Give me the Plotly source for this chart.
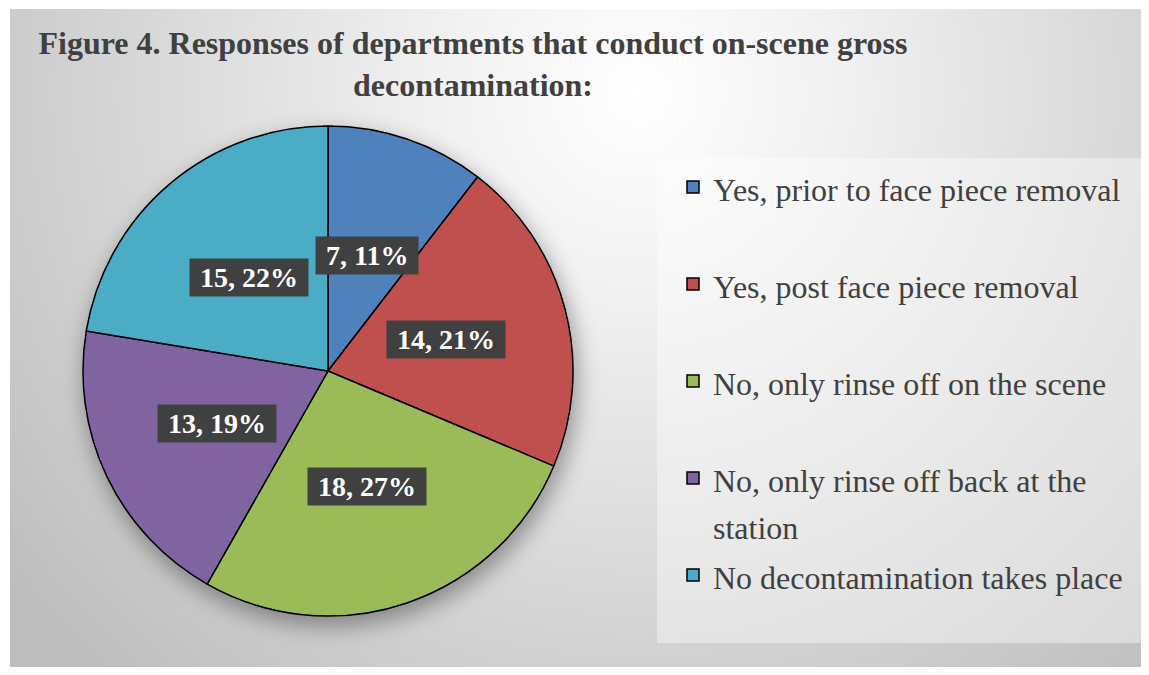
import base64
import math
import plotly.graph_objects as go

# ---- data ----
categories = [
    "Yes, prior to face piece removal",
    "Yes, post face piece removal",
    "No, only rinse off on the scene",
    "No, only rinse off back at the<br>station",
    "No decontamination takes place",
]
responses = [7, 14, 18, 13, 15]
pct_labels = ["11%", "21%", "27%", "19%", "22%"]
colors = ["#4F81BD", "#C0504D", "#9BBB59", "#8064A2", "#4BACC6"]
title_text = "Figure 4. Responses of departments that conduct on-scene gross<br>decontamination:"

# page is 1149x675; the html body adds an 8px margin around the figure
MARGIN = 8
W, H = 1149 - 2 * MARGIN, 675 - 2 * MARGIN

# pie placement (figure pixels)
PIE_CX, PIE_CY, PIE_R = 320, 363, 245
dom_x = [(PIE_CX - PIE_R) / W, (PIE_CX + PIE_R) / W]
dom_y = [1 - (PIE_CY + PIE_R) / H, 1 - (PIE_CY - PIE_R) / H]

cx_px = (dom_x[0] + dom_x[1]) / 2 * W
cy_px = (1 - (dom_y[0] + dom_y[1]) / 2) * H
R = min((dom_x[1] - dom_x[0]) * W, (dom_y[1] - dom_y[0]) * H) / 2

# background (radial gradient, legend panel, soft pie shadow)
svg = f'''<svg xmlns="http://www.w3.org/2000/svg" width="{W}" height="{H}" viewBox="0 0 {W} {H}" preserveAspectRatio="none">
<defs>
<radialGradient id="g" gradientUnits="userSpaceOnUse" cx="630" cy="85" r="800">
<stop offset="0" stop-color="#ffffff"/>
<stop offset="0.25" stop-color="#f1f1f1"/>
<stop offset="0.6" stop-color="#d9d9d9"/>
<stop offset="1" stop-color="#bdbdbd"/>
</radialGradient>
<filter id="b" x="-30%" y="-30%" width="160%" height="160%"><feGaussianBlur stdDeviation="11"/></filter>
</defs>
<rect width="{W}" height="{H}" fill="#ffffff"/>
<rect x="2" y="1" width="{W-2}" height="{H-1}" fill="url(#g)"/>
<rect x="649" y="150" width="{W-649}" height="485" fill="#ffffff" fill-opacity="0.4"/>
<circle cx="{cx_px+3:.1f}" cy="{cy_px+9:.1f}" r="{R+2:.1f}" fill="#000000" fill-opacity="0.35" filter="url(#b)"/>
</svg>'''
bg_uri = "data:image/svg+xml;base64," + base64.b64encode(svg.encode()).decode()

# every legend entry spans two lines so the entries sit on an even grid
legend_labels = [
    f"<span style='font-size:32px'>{c}</span>" + ("" if "<br>" in c else "<br> ")
    for c in categories
]

fig = go.Figure(
    go.Pie(
        labels=legend_labels,
        values=responses,
        customdata=[c.replace("<br>", " ") for c in categories],
        hovertemplate="%{customdata}: %{value} (%{percent})<extra></extra>",
        marker=dict(colors=colors, line=dict(color="#000000", width=1.5)),
        textinfo="none",
        sort=False,
        direction="clockwise",
        rotation=0,
        domain=dict(x=dom_x, y=dom_y),
    )
)

# data labels with dark boxes, placed at half radius along each slice's mid angle
total = sum(responses)
cum = 0
annotations = []
for v, p in zip(responses, pct_labels):
    mid = (cum + v / 2) / total * 2 * math.pi
    cum += v
    px = cx_px + 0.5 * R * math.sin(mid)
    py = cy_px - 0.5 * R * math.cos(mid)
    annotations.append(
        dict(
            x=px / W, y=1 - py / H, xref="paper", yref="paper",
            text=f"&nbsp;{v}, {p}&nbsp;", showarrow=False,
            font=dict(family="Liberation Serif", size=28, color="#ffffff", weight="bold"),
            bgcolor="#404040", borderpad=3,
            xanchor="center", yanchor="middle",
        )
    )

fig.update_layout(
    width=W, height=H,
    margin=dict(l=0, r=0, t=0, b=0),
    paper_bgcolor="#ffffff",
    images=[dict(source=bg_uri, xref="paper", yref="paper", x=0, y=1,
                 sizex=1, sizey=1, sizing="stretch", xanchor="left", yanchor="top",
                 layer="below")],
    title=dict(text=title_text, x=465 / W, xanchor="center", y=1 - 46 / H, yanchor="top",
               font=dict(family="Liberation Serif", size=32, color="#404040", weight="bold")),
    legend=dict(x=665 / W, xanchor="left", y=1 - 149 / H, yanchor="top", valign="top",
                bgcolor="rgba(0,0,0,0)",
                font=dict(family="Liberation Serif", size=36.15, color="#404040")),
    showlegend=True,
    annotations=annotations,
)

fig.write_html("out.html")
